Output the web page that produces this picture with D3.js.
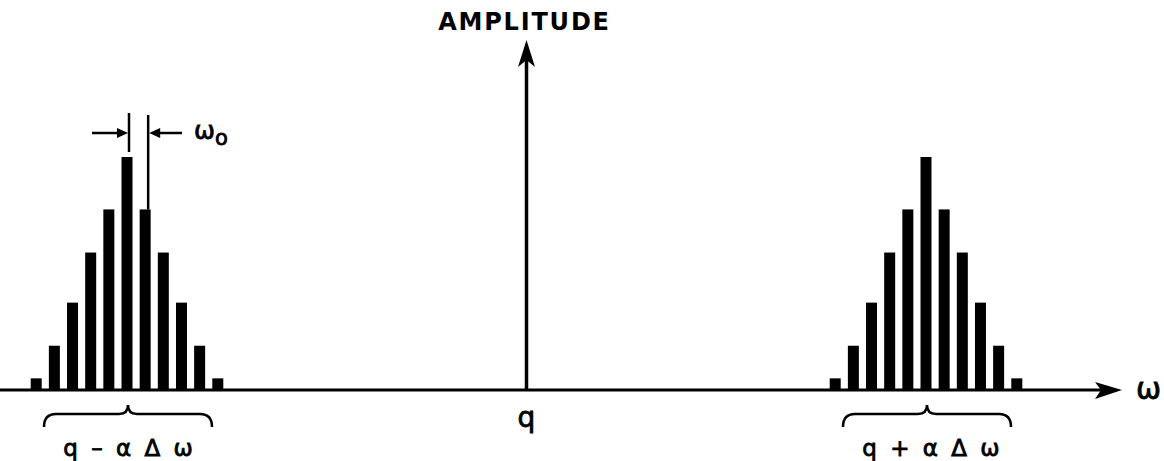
<!DOCTYPE html>
<html>
<head>
<meta charset="utf-8">
<script src="https://cdn.jsdelivr.net/npm/d3@7"></script>
<style>
  html, body { margin: 0; padding: 0; background: #fff; }
  svg { display: block; }
  text { font-family: "DejaVu Sans", sans-serif; fill: #000; stroke: #000; stroke-width: 0.8; }
</style>
</head>
<body>
<script>
// Line spectrum: carrier q with two sideband groups at q ± αΔω,
// each made of lines spaced ω0 apart (frequencies in units of ω0).
const harmonics = [-5, -4, -3, -2, -1, 0, 1, 2, 3, 4, 5];
const amplitudes = [0.05, 0.19, 0.375, 0.59, 0.775, 1.0, 0.775, 0.59, 0.375, 0.19, 0.05];
const groupCenters = [-22, 22];          // q − αΔω, q + αΔω
const groupLabels = ["q – α Δ ω", "q + α Δ ω"];
const carrier = 0;
const carrierLabel = "q";
const yAxisLabel = "AMPLITUDE";
const xAxisLabel = "ω";
const spacingLabel = ["ω", "o"];

const W = 1164, H = 461;
const svg = d3.select("body").append("svg").attr("width", W).attr("height", H);

const x = d3.scaleLinear().domain([-22, 22]).range([127, 926]);
const y = d3.scaleLinear().domain([0, 1]).range([390, 157]);
const barW = 11;

// spectral lines
const lines = [];
groupCenters.forEach(c => harmonics.forEach((h, i) => lines.push({ f: c + h, a: amplitudes[i] })));
svg.append("g").selectAll("rect").data(lines).join("rect")
  .attr("x", d => x(d.f) - barW / 2)
  .attr("y", d => y(d.a))
  .attr("width", barW)
  .attr("height", d => y(0) - y(d.a))
  .attr("fill", "#000");

// frequency axis with arrow
const axisEnd = 1122;
svg.append("line").attr("x1", 0).attr("x2", axisEnd - 20).attr("y1", y(0)).attr("y2", y(0))
  .attr("stroke", "#000").attr("stroke-width", 3);
svg.append("path")
  .attr("d", `M${axisEnd},${y(0)} L${axisEnd - 27},${y(0) - 8} L${axisEnd - 21},${y(0)} L${axisEnd - 27},${y(0) + 9} Z`)
  .attr("fill", "#000");
svg.append("text").attr("x", 1136).attr("y", y(0) + 9)
  .attr("font-size", 30).text(xAxisLabel);

// carrier amplitude arrow
const cx = x(carrier);
svg.append("line").attr("x1", cx).attr("x2", cx).attr("y1", y(0)).attr("y2", 55)
  .attr("stroke", "#000").attr("stroke-width", 3.5);
svg.append("path")
  .attr("d", `M${cx},40 L${cx + 8.5},67 L${cx},60 L${cx - 8.5},67 Z`)
  .attr("fill", "#000");
svg.append("text").attr("x", cx - 2).attr("y", 30).attr("text-anchor", "middle")
  .attr("font-size", 24).attr("font-weight", "bold").attr("letter-spacing", 1.8)
  .style("stroke-width", 0)
  .text(yAxisLabel);
svg.append("text").attr("x", cx).attr("y", 427).attr("text-anchor", "middle")
  .attr("font-size", 28).text(carrierLabel);

// braces and labels under each sideband group
function brace(c, half, yTop) {
  const p = d3.path();
  const l = c - half, r = c + half, yh = yTop + 9, yb = yTop + 22;
  p.moveTo(l, yb);
  p.quadraticCurveTo(l, yh, l + 12, yh);
  p.lineTo(c - 9, yh);
  p.quadraticCurveTo(c, yh, c, yTop);
  p.quadraticCurveTo(c, yh, c + 9, yh);
  p.lineTo(r - 12, yh);
  p.quadraticCurveTo(r, yh, r, yb);
  return p.toString();
}
groupCenters.forEach((c, i) => {
  const bx = x(c) + 1;
  svg.append("path").attr("d", brace(bx, 84, 405))
    .attr("fill", "none").attr("stroke", "#000").attr("stroke-width", 2.5);
  svg.append("text").attr("x", bx + (i === 0 ? 0 : 4)).attr("y", 456)
    .attr("text-anchor", "middle").attr("font-size", 23)
    .attr("word-spacing", 6).attr("xml:space", "preserve")
    .text(groupLabels[i]);
});

// ω0 spacing dimension on the lower group
const e0 = x(groupCenters[0]) + 2, e1 = x(groupCenters[0] + 1) + 3;
const dimY = 133;
svg.append("line").attr("x1", e0).attr("x2", e0).attr("y1", 113).attr("y2", 152)
  .attr("stroke", "#000").attr("stroke-width", 2.5);
svg.append("line").attr("x1", e1).attr("x2", e1).attr("y1", 115).attr("y2", y(amplitudes[6]))
  .attr("stroke", "#000").attr("stroke-width", 2.5);
svg.append("line").attr("x1", 92).attr("x2", e0 - 8).attr("y1", dimY).attr("y2", dimY)
  .attr("stroke", "#000").attr("stroke-width", 2.5);
svg.append("path").attr("d", `M${e0 - 1},${dimY} L${e0 - 12},${dimY - 5} L${e0 - 12},${dimY + 5} Z`).attr("fill", "#000");
svg.append("line").attr("x1", e1 + 8).attr("x2", 182).attr("y1", dimY).attr("y2", dimY)
  .attr("stroke", "#000").attr("stroke-width", 2.5);
svg.append("path").attr("d", `M${e1 + 1},${dimY} L${e1 + 12},${dimY - 5} L${e1 + 12},${dimY + 5} Z`).attr("fill", "#000");
const t0 = svg.append("text").attr("x", 194).attr("y", 139).attr("font-size", 25);
t0.append("tspan").text(spacingLabel[0]);
t0.append("tspan").attr("dy", 6).attr("font-size", 21).text(spacingLabel[1]);
</script>
</body>
</html>
